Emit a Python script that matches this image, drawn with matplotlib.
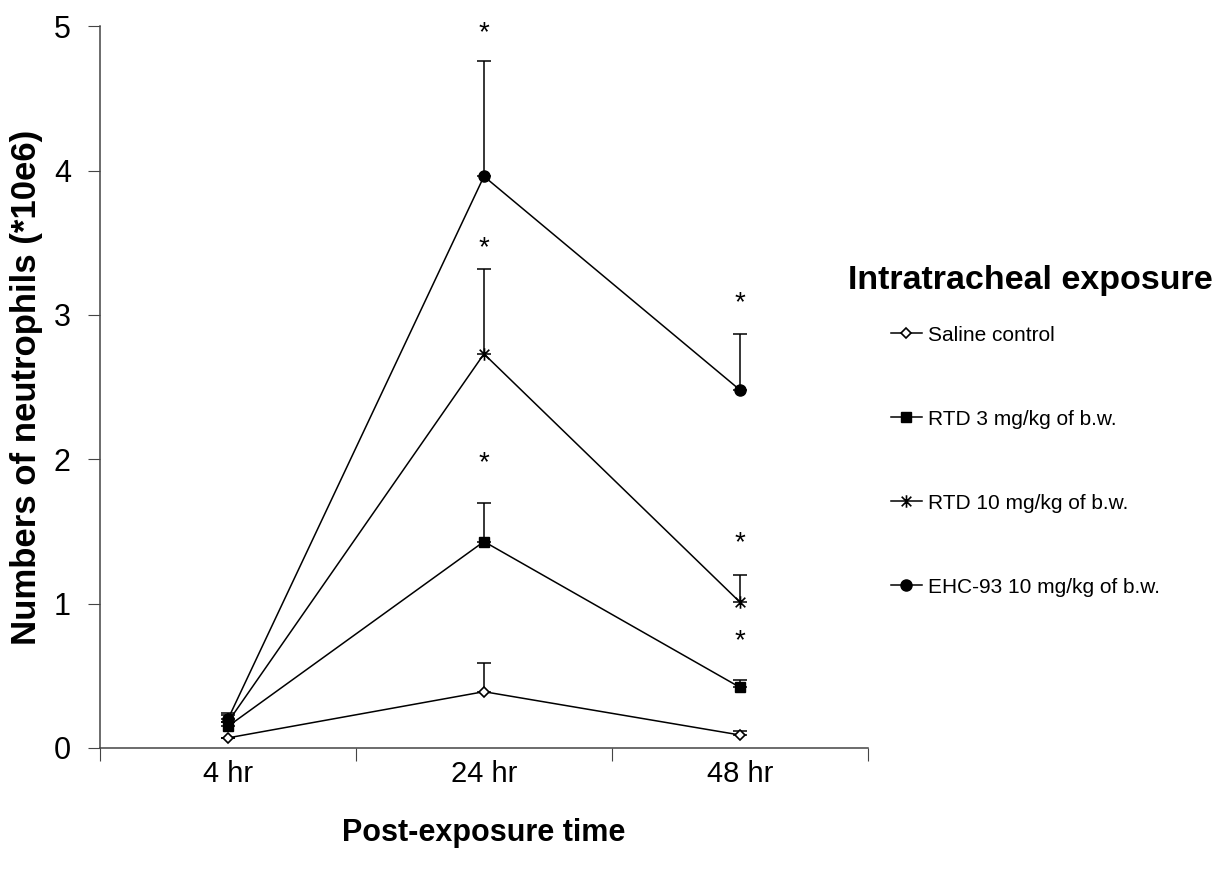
import numpy as np
import matplotlib
matplotlib.use("Agg")
import matplotlib.pyplot as plt
from matplotlib.path import Path

plt.rcParams['font.family'] = ['Liberation Sans', 'DejaVu Sans']

# donnees
temps = ['4 hr', '24 hr', '48 hr']
series = ['Saline control', 'RTD 3 mg/kg of b.w.', 'RTD 10 mg/kg of b.w.', 'EHC-93 10 mg/kg of b.w.']
saline = [0.07, 0.39, 0.09]
rtd3 = [0.15, 1.43, 0.42]
rtd10 = [0.18, 2.73, 1.01]
ehc93 = [0.20, 3.96, 2.48]
# erreurs (partie haute seulement)
saline_err = [0.0, 0.20, 0.03]
rtd3_err = [0.03, 0.27, 0.05]
rtd10_err = [0.06, 0.59, 0.19]
ehc93_err = [0.03, 0.80, 0.39]
# asterisques de significativite
etoile_x = [1, 1, 1, 2, 2, 2]
etoile_y = [4.99, 3.50, 2.01, 3.12, 1.46, 0.78]

# marqueur "x" + barre verticale (style Excel)
etoile_path = Path([(-1, -1), (1, 1), (-1, 1), (1, -1), (0, -1.3), (0, 1.3)],
                   [Path.MOVETO, Path.LINETO, Path.MOVETO, Path.LINETO, Path.MOVETO, Path.LINETO])

fig = plt.figure(figsize=(12.22, 8.73), dpi=100)
ax = fig.add_axes([0.0818, 0.1432, 0.6285, 0.8268])

x = np.arange(len(temps))
styles = [
    dict(marker='D', ms=5, mfc='white', mec='black', mew=1.2),
    dict(marker='s', ms=7, mfc='black', mec='black'),
    dict(marker=etoile_path, ms=9, mfc='black', mec='black', mew=1.2),
    dict(marker='o', ms=8, mfc='black', mec='black'),
]
valeurs = [saline, rtd3, rtd10, ehc93]
erreurs = [saline_err, rtd3_err, rtd10_err, ehc93_err]

handles = []
for nom, v, e, st in zip(series, valeurs, erreurs, styles):
    ax.errorbar(x, v, yerr=[np.zeros(len(e)), e], fmt='none', ecolor='black',
                elinewidth=1.1, capsize=5, capthick=1.1, zorder=2)
    h, = ax.plot(x, v, color='black', lw=1.1, label=nom, zorder=3, **st)
    handles.append(h)

for ex, ey in zip(etoile_x, etoile_y):
    ax.annotate('*', (ex, ey), xytext=(0, -4), textcoords='offset points',
                ha='center', va='center', fontsize=20)

ax.set_xlim(-0.5, 2.5)
ax.set_ylim(0, 5)
ax.set_yticks([0, 1, 2, 3, 4, 5])
ax.set_xticks([-0.5, 0.5, 1.5, 2.5])
ax.set_xticklabels([])
ax.set_xticks(x, minor=True)
ax.set_xticklabels(temps, minor=True)
ax.tick_params(axis='x', which='minor', length=0, pad=9, labelsize=21)
ax.tick_params(axis='x', which='major', length=9, direction='out', color='#444')
ax.tick_params(axis='y', length=9, direction='out', labelsize=22, pad=12, color='#444')
for s in ['top', 'right']:
    ax.spines[s].set_visible(False)
for s in ['left', 'bottom']:
    ax.spines[s].set_color('#444')
    ax.spines[s].set_linewidth(1.1)

ax.set_xlabel('Post-exposure time', fontsize=22, fontweight='bold', labelpad=21)
ax.set_ylabel('Numbers of neutrophils (*10e6)', fontsize=25, fontweight='bold', labelpad=8)

fig.text(0.843, 0.679, 'Intratracheal exposure', ha='center', va='center',
         fontsize=24.5, fontweight='bold')
fig.legend(handles=handles, loc='upper left', bbox_to_anchor=(0.7135, 0.6485),
           frameon=False, fontsize=15, handlelength=1.5, handletextpad=0.3,
           labelspacing=3.12)

fig.savefig('out.png', dpi=100)
